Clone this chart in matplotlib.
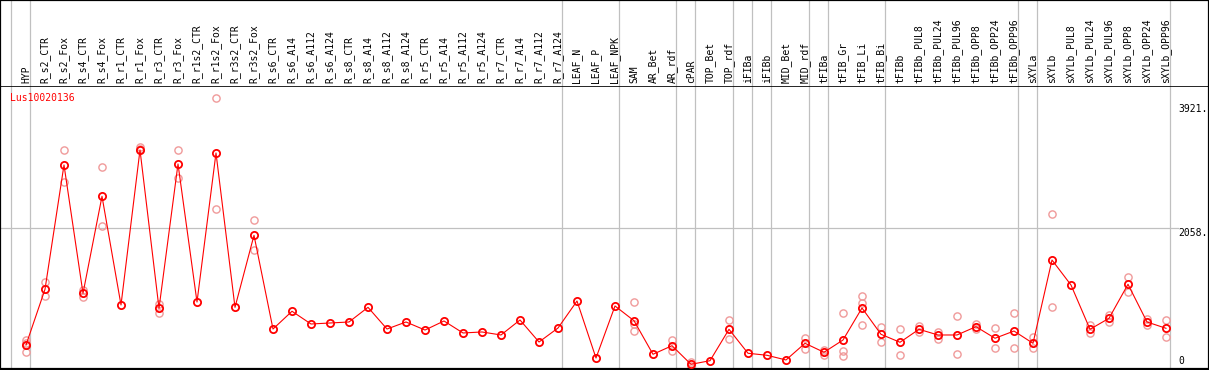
import matplotlib
matplotlib.use('Agg')
import matplotlib.pyplot as plt

# sample labels (x axis), one column each
labels = ['HYP', 'R_s2_CTR', 'R_s2_Fox', 'R_s4_CTR', 'R_s4_Fox', 'R_r1_CTR', 'R_r1_Fox',
          'R_r3_CTR', 'R_r3_Fox', 'R_r1s2_CTR', 'R_r1s2_Fox', 'R_r3s2_CTR', 'R_r3s2_Fox',
          'R_s6_CTR', 'R_s6_A14', 'R_s6_A112', 'R_s6_A124', 'R_s8_CTR', 'R_s8_A14',
          'R_s8_A112', 'R_s8_A124', 'R_r5_CTR', 'R_r5_A14', 'R_r5_A112', 'R_r5_A124',
          'R_r7_CTR', 'R_r7_A14', 'R_r7_A112', 'R_r7_A124', 'LEAF_N', 'LEAF_P', 'LEAF_NPK',
          'SAM', 'AR_Bet', 'AR_rdf', 'cPAR', 'TOP_Bet', 'TOP_rdf', 'iFIBa', 'iFIBb',
          'MID_Bet', 'MID_rdf', 'tFIBa', 'tFIB_Gr', 'tFIB_Li', 'tFIB_Bi', 'tFIBb',
          'tFIBb_PUL8', 'tFIBb_PUL24', 'tFIBb_PUL96', 'tFIBb_OPP8', 'tFIBb_OPP24',
          'tFIBb_OPP96', 'sXYLa', 'sXYLb', 'sXYLb_PUL8', 'sXYLb_PUL24', 'sXYLb_PUL96',
          'sXYLb_OPP8', 'sXYLb_OPP24', 'sXYLb_OPP96']

# mean expression per sample
means = [316, 1148, 3004, 1088, 2536, 914, 3228, 864, 3019, 958, 3183, 879, 1954,
         555, 820, 630, 645, 660, 879, 555, 660, 540, 675, 496, 511, 466, 690, 361, 570,
         973, 122, 899,
         679, 178, 306, 28, 82, 551, 193, 163, 93, 342, 208, 391, 869, 476,
         357, 551, 466, 466, 590, 417, 525,
         342, 1585, 1212, 551, 715, 1223, 660, 566]

# visible replicate values per sample
reps = [[391, 345, 212], [1253, 1052], [3223, 2754], [1138, 1038], [2969, 2093], [],
        [3277, 3243], [929, 799], [3223, 2805], [], [3999, 2342], [], [2178, 1730],
        [], [], [], [], [], [], [], [], [], [], [], [], [], [], [], [],
        [], [], [],
        [958, 630, 530], [], [396, 231], [67, 5], [], [685, 411], [], [], [], [417, 252],
        [242, 163], [790, 231, 152], [1048, 939, 611], [581, 357],
        [551, 163], [600, 515], [511, 406], [749, 178], [630, 551], [566, 276], [790, 267],
        [440, 276], [2268, 879], [], [615, 491], [764, 655], [1336, 1103], [709, 611],
        [690, 440]]

# last sample index of each group (-1 = boundary before the first)
group_ends = [-1, 0, 28, 31, 34, 35, 37, 38, 39, 41, 42, 45, 52, 53, 60]

gene = 'Lus10020136'
yticks = [3921, 2058, 0]

W, H = 1209, 370
fig = plt.figure(figsize=(W / 100, H / 100), dpi=100)

# pixel geometry: column i at x = 26 + 19*i
x0, dx = 26, 19
xlim = ((0 - x0) / dx, (W - x0) / dx)
head_h = 85.5
plot_bottom = 1.0
# value -> pixel: 0 at y=366.2 (from top), 14.928 units per px
ylo = (366.2 - (H - plot_bottom)) * 14.928
yhi = (366.2 - head_h) * 14.928

ax = fig.add_axes([0, plot_bottom / H, 1, (H - head_h - plot_bottom) / H])
hx = fig.add_axes([0, (H - head_h) / H, 1, head_h / H])

for a in (ax, hx):
    a.set_xlim(*xlim)
    a.set_xticks([])
    a.set_yticks([])
    for s in a.spines.values():
        s.set_linewidth(1.6)
        s.set_color('black')
    for g in group_ends:
        a.axvline(g + 0.22, color='#c0c0c0', lw=0.9, zorder=0)

ax.set_ylim(ylo, yhi)
hx.set_ylim(0, 1)
hx.spines['bottom'].set_visible(False)
ax.spines['top'].set_linewidth(1.2)

mono = 'DejaVu Sans Mono'
xs = list(range(len(labels)))
for i, lab in enumerate(labels):
    hx.text(i, 0.03, lab, rotation=90, ha='center', va='bottom',
            fontsize=7, family=mono, color='black')

# horizontal grid at mid tick
ax.plot([xlim[0], (1178 - x0) / dx], [2058, 2058], color='#c0c0c0', lw=0.9, zorder=0)

# replicates
rx, ry = [], []
for i, r in enumerate(reps):
    for v in r:
        rx.append(i)
        ry.append(v)
ax.plot(rx, ry, ls='none', marker='o', ms=5.2, mfc='none', mec='#f09a9a', mew=1.0, zorder=2)

# mean line
ax.plot(xs, means, color='#ff0000', lw=0.8, marker='o', ms=5.2, mfc='none',
        mec='#ff0000', mew=1.3, zorder=3)

ax.text(10 / W, 0.956, gene, transform=ax.transAxes, ha='left', va='center',
        fontsize=7, family=mono, color='#ff0000')

ytf = ax.get_yaxis_transform()
for t in yticks:
    ax.text(1178 / W, t, f'{t}.' if t else '0', transform=ytf, ha='left',
            va='top' if t else 'bottom', fontsize=7, family=mono, color='black')

fig.savefig('out.png', dpi=100, facecolor='white')
